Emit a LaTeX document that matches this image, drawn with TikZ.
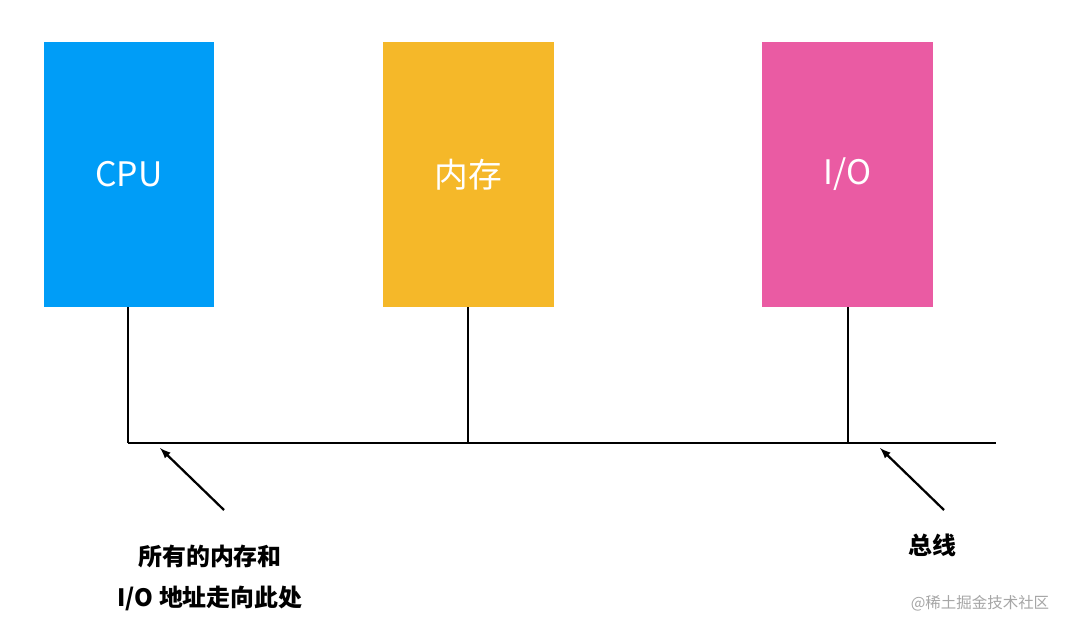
\documentclass[tikz,border=0pt]{standalone}
\usepackage{fontspec}
\setmainfont{Noto Sans CJK SC}
\newfontfamily\cjkbold[BoldFont={Noto Sans CJK SC Bold}]{Noto Sans CJK SC}
\begin{document}
\begin{tikzpicture}[x=0.025cm, y=-0.025cm]
 \tikzstyle{unit}=[rectangle, minimum width=4.25cm, minimum height=6.625cm, text=white, font=\fontsize{24}{28}\selectfont, inner sep=0pt]
 \tikzstyle{wire}=[black, line width=1.6pt]
 \tikzstyle{pointer}=[->, >=latex, line width=1.6pt]
 \tikzstyle{note}=[align=center, font=\fontsize{17}{29}\selectfont\bfseries]
 \definecolor{cpublue}{HTML}{009DF7}
 \definecolor{memyellow}{HTML}{F5B829}
 \definecolor{iopink}{HTML}{EA5BA3}
 %
 \useasboundingbox[fill=white] (0,0) rectangle (1080,632);
 %
 \node[unit, fill=cpublue] (CPU) at (129, 174.5) {CPU};
 \node[unit, fill=memyellow] (MEM) at (468.5, 174.5) {内存};
 \node[unit, fill=iopink] (IO) at (847.5, 174.5) {I/O};
 %
 \coordinate (B1) at (128, 443);
 \coordinate (B2) at (468, 443);
 \coordinate (B3) at (848, 443);
 \coordinate (BE) at (996, 443);
 \draw[wire] (CPU.south -| B1)--(B1);
 \draw[wire] (MEM.south -| B2)--(B2);
 \draw[wire] (IO.south -| B3)--(B3);
 \draw[wire] (B1)--(BE);
 %
 \coordinate (A1) at (160, 448);
 \coordinate (A2) at (880, 448);
 \node[note] (addr) at (210, 578) {所有的内存和\\I/O 地址走向此处};
 \node[note] (bus) at (932, 545) {总线};
 \coordinate (S1) at (224, 510);
 \coordinate (S2) at (944, 510);
 \draw[pointer] (S1)--(A1);
 \draw[pointer] (S2)--(A2);
 %
 \node[text=gray!70, font=\fontsize{11}{13}\selectfont] (mark) at (980, 603) {@稀土掘金技术社区};
\end{tikzpicture}
\end{document}
